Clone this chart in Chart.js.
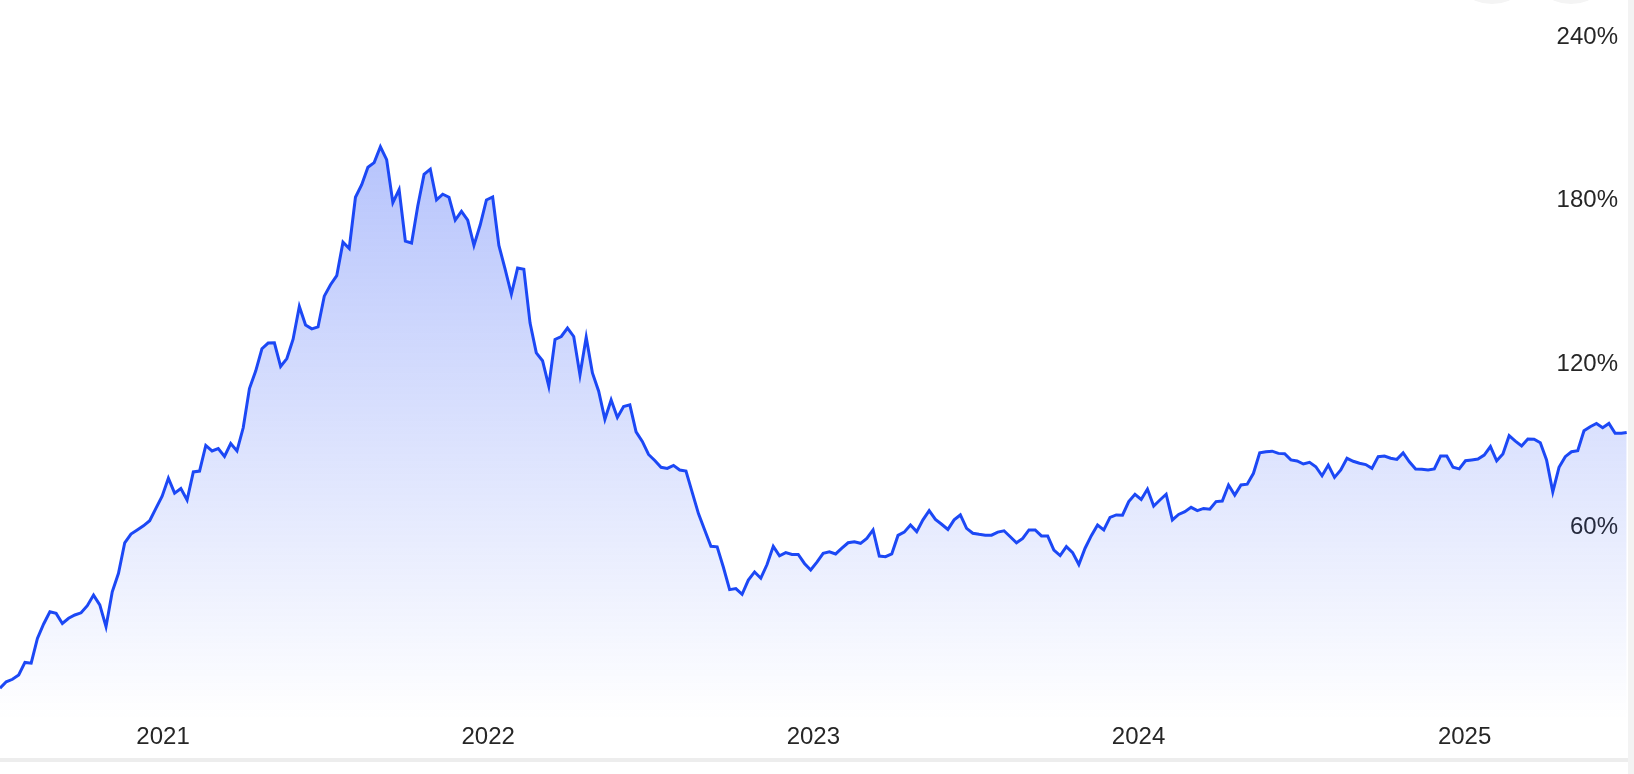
<!DOCTYPE html>
<html>
<head>
<meta charset="utf-8">
<script src="https://cdn.jsdelivr.net/npm/chart.js@4.4.1/dist/chart.umd.min.js"></script>
<style>
  body { margin: 0; background: #fff; width: 1634px; height: 774px; overflow: hidden; position: relative; }
  #chartBox { position: absolute; left: 0; top: 0; width: 1628px; height: 757px; }
  .edge { position: absolute; left: 1628px; top: 0; width: 6px; height: 774px; background: #f3f3f3; }
  .band { position: absolute; left: 0; top: 758px; width: 1628px; height: 4px; background: #ededed; }
  .btn { position: absolute; top: -84px; width: 88px; height: 88px; border-radius: 50%; background: #f4f4f4; }
</style>
</head>
<body>
<div class="btn" style="left:1448px"></div>
<div class="btn" style="left:1527px"></div>
<div id="chartBox"><canvas id="returnChart"></canvas></div>
<div class="edge"></div>
<div class="band"></div>

<script>
// weekly cumulative return in %, early July 2020 -> early July 2025
const returns = [
    1.0, 3.4, 4.3, 5.9, 10.5, 10.2, 19.3, 24.6, 29.1, 28.5,
    24.8, 26.7, 27.9, 28.7, 31.3, 35.2, 31.6, 23.6, 36.4, 43.2,
    54.4, 57.6, 59.1, 60.6, 62.5, 67.0, 71.5, 78.1, 72.6, 74.3,
    70.1, 80.4, 80.7, 90.1, 88.1, 89.0, 86.1, 90.8, 88.1, 96.6,
    111.0, 117.4, 125.6, 127.7, 127.8, 119.1, 122.0, 129.1, 141.1, 134.3,
    132.9, 133.6, 144.9, 149.1, 152.4, 164.7, 162.4, 181.2, 185.8, 192.2,
    193.9, 199.7, 195.0, 179.2, 184.0, 165.1, 164.4, 178.1, 189.6, 191.5,
    180.2, 182.3, 181.2, 172.8, 176.0, 172.8, 163.5, 171.0, 180.2, 181.3,
    163.5, 154.8, 145.6, 155.2, 154.8, 135.0, 124.1, 121.2, 111.9, 129.0,
    130.1, 133.2, 130.1, 116.0, 129.8, 116.7, 110.0, 99.7, 106.8, 100.4,
    104.4, 105.0, 95.1, 91.6, 86.8, 84.6, 82.1, 81.7, 82.8, 81.1,
    80.7, 72.9, 65.1, 59.1, 53.1, 52.9, 45.4, 37.2, 37.6, 35.5,
    40.7, 43.7, 41.4, 46.4, 53.1, 49.6, 50.8, 50.1, 50.1, 46.8,
    44.4, 47.3, 50.5, 51.1, 50.3, 52.4, 54.4, 54.8, 54.2, 56.0,
    59.1, 49.5, 49.3, 50.3, 57.1, 58.3, 60.9, 58.5, 62.8, 66.2,
    63.0, 61.2, 59.3, 62.8, 64.6, 59.7, 57.9, 57.5, 57.2, 57.2,
    58.3, 58.8, 56.6, 54.4, 56.0, 59.1, 59.1, 56.9, 56.9, 51.7,
    49.7, 53.0, 50.8, 46.4, 52.4, 57.0, 60.9, 59.1, 63.7, 64.6,
    64.5, 69.5, 72.2, 70.3, 74.1, 67.9, 70.1, 72.2, 62.8, 64.8,
    65.8, 67.4, 66.2, 67.0, 66.7, 69.5, 69.7, 75.6, 71.9, 75.6,
    75.9, 79.9, 87.4, 87.8, 88.0, 87.2, 87.1, 84.8, 84.4, 83.3,
    83.9, 82.3, 79.0, 82.9, 78.4, 81.1, 85.4, 84.3, 83.6, 83.1,
    81.7, 86.0, 86.2, 85.4, 85.0, 87.4, 84.1, 81.5, 81.4, 81.1,
    81.5, 86.2, 86.2, 82.1, 81.5, 84.5, 84.8, 85.1, 86.6, 89.7,
    84.5, 87.0, 93.7, 91.7, 89.9, 92.5, 92.4, 91.1, 84.8, 73.1,
    82.1, 86.0, 87.8, 88.2, 95.5, 97.0, 98.2, 96.6, 98.2, 94.6,
    94.6, 94.9
];
const startDate = new Date(2020, 6, 2);
const lastWeek = 260.85; // the last point is only part of a week
const yearLabels = ['2021', '2022', '2023', '2024', '2025'];
const percentTicks = [60, 120, 180, 240];

const DAY = 24 * 3600 * 1000;
const yearPos = yearLabels.map(y => (new Date(+y, 0, 1) - startDate) / (7 * DAY));
const points = returns.map((v, i) => ({ x: i === returns.length - 1 ? lastWeek : i, y: v }));

const labelFont = { family: '"Liberation Sans", Arial, sans-serif', size: 24 };

const ctx = document.getElementById('returnChart').getContext('2d');
const returnChart = new Chart(ctx, {
    type: 'line',
    data: {
        datasets: [{
            data: points,
            borderColor: '#1c48f5',
            borderWidth: 3,
            pointRadius: 0,
            tension: 0,
            fill: 'start',
            backgroundColor: function(c) {
                const area = c.chart.chartArea;
                if (!area) return 'rgba(38,78,246,0.2)';
                const g = c.chart.ctx.createLinearGradient(0, area.top, 0, area.bottom);
                g.addColorStop(0, 'rgba(38,78,246,0.42)');
                g.addColorStop(1, 'rgba(38,78,246,0)');
                return g;
            }
        }]
    },
    options: {
        responsive: true,
        maintainAspectRatio: false,
        animation: false,
        layout: { padding: 0 },
        plugins: {
            legend: { display: false },
            tooltip: { enabled: false }
        },
        scales: {
            x: {
                type: 'linear',
                min: 0,
                max: 261.06,
                grid: { display: false, drawTicks: false },
                border: { display: false },
                afterBuildTicks: s => { s.ticks = yearPos.map(v => ({ value: v })); },
                afterFit: s => { s.paddingLeft = 0; s.paddingRight = 0; s.height = 37; },
                ticks: {
                    padding: 3,
                    maxRotation: 0,
                    autoSkip: false,
                    color: '#262626',
                    font: labelFont,
                    callback: (v, i) => yearLabels[i]
                }
            },
            y: {
                type: 'linear',
                position: 'right',
                min: -10.64,
                max: 253.58,
                grid: { display: false, drawTicks: false },
                border: { display: false },
                afterBuildTicks: s => { s.ticks = percentTicks.map(v => ({ value: v })); },
                afterFit: s => { s.width = 0; s.paddingTop = 0; s.paddingBottom = 0; },
                ticks: {
                    mirror: true,
                    padding: -10,
                    color: '#262626',
                    font: labelFont,
                    callback: v => v + '%'
                }
            }
        }
    }
});
</script>
</body>
</html>
